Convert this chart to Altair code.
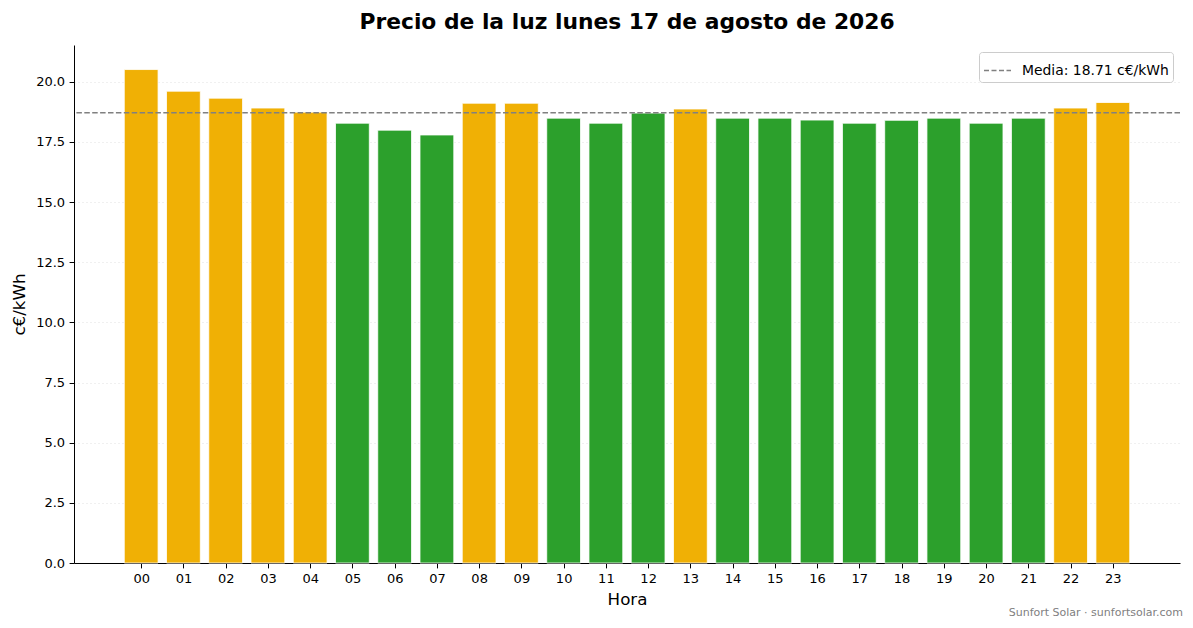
import altair as alt
import pandas as pd

horas = ["00", "01", "02", "03", "04", "05", "06", "07", "08", "09", "10", "11",
         "12", "13", "14", "15", "16", "17", "18", "19", "20", "21", "22", "23"]
precios = [20.51, 19.61, 19.32, 18.91, 18.74, 18.28, 17.99, 17.79, 19.11, 19.11, 18.49, 18.28,
           18.70, 18.87, 18.49, 18.49, 18.41, 18.28, 18.40, 18.49, 18.28, 18.49, 18.91, 19.14]
MEDIA = 18.71
media_label = "Media: 18.71 c€/kWh"
y_ticks = [0.0, 2.5, 5.0, 7.5, 10.0, 12.5, 15.0, 17.5, 20.0]
titulo = "Precio de la luz lunes 17 de agosto de 2026"
watermark = "Sunfort Solar · sunfortsolar.com"

ORANGE = "#F0B005"
GREEN = "#2CA02C"
FONT = "DejaVu Sans"
W, H = 1106, 518

df = pd.DataFrame({"Hora": horas, "idx": [int(h) for h in horas], "precio": precios})
df_media = pd.DataFrame({"media": [MEDIA], "serie": [media_label]})
df_wm = pd.DataFrame({"t": [watermark]})
df_title = pd.DataFrame({"t": [titulo]})

bars = alt.Chart(df).transform_calculate(
    x0="datum.idx - 0.4", x1="datum.idx + 0.4"
).mark_bar(stroke="white", strokeWidth=0.8, orient="vertical").encode(
    x=alt.X("x0:Q",
            scale=alt.Scale(domain=[-1.59, 24.59], nice=False, zero=False),
            axis=alt.Axis(title="Hora", values=list(range(24)), grid=False, titlePadding=6,
                          labelExpr="datum.value < 10 ? '0' + datum.value : '' + datum.value")),
    x2="x1:Q",
    y=alt.Y("precio:Q",
            scale=alt.Scale(domain=[0, 21.53], nice=False, zero=True),
            axis=alt.Axis(title="c€/kWh", values=y_ticks, format=".1f", grid=True,
                          gridDash=[1, 3], gridColor="#d9d9d9", gridWidth=0.8, titlePadding=7)),
    y2=alt.datum(0),
    color=alt.condition(f"datum.precio > {MEDIA}", alt.value(ORANGE), alt.value(GREEN)),
)

rule = alt.Chart(df_media).mark_rule(strokeDash=[5.5, 2.4], strokeWidth=1.5).encode(
    y=alt.Y("media:Q"),
    color=alt.Color("serie:N",
                    scale=alt.Scale(domain=[media_label], range=["#808080"]),
                    legend=alt.Legend(title=None, orient="top-right", offset=7,
                                      padding=4, fillColor="white", strokeColor="#cccccc",
                                      cornerRadius=3, symbolType="stroke",
                                      symbolDash=[5, 2.5], symbolStrokeWidth=1.5,
                                      symbolSize=729, labelFontSize=13.9, labelFont=FONT,
                                      labelColor="black", labelOffset=10)),
)

wm = alt.Chart(df_wm).mark_text(align="right", baseline="middle", fontSize=11,
                                 font=FONT, color="#808080").encode(
    text="t:N",
    x=alt.value(W + 3),
    y=alt.value(H + 50),
)

title_mark = alt.Chart(df_title).mark_text(align="center", baseline="alphabetic",
                                           fontSize=21.8, fontWeight="bold",
                                           font=FONT, color="black").encode(
    text="t:N",
    x=alt.value(W / 2),
    y=alt.value(-16),
)

chart = alt.layer(bars, rule, wm, title_mark).properties(
    width=W, height=H,
    autosize=alt.AutoSizeParams(type="none"),
    padding={"left": 66, "top": 37, "right": 5, "bottom": 60},
).configure_view(stroke=None).configure_scale(continuousPadding=0).configure_axis(
    labelFont=FONT, titleFont=FONT, labelFontSize=13, titleFontSize=16.7,
    labelColor="black", titleColor="black", titleFontWeight="normal",
    domainColor="black", domainWidth=1, tickColor="black", tickSize=4.9, tickWidth=1,
    labelPadding=4.5,
)

chart.save("out.html", embed_options={"renderer": "svg", "actions": False})
